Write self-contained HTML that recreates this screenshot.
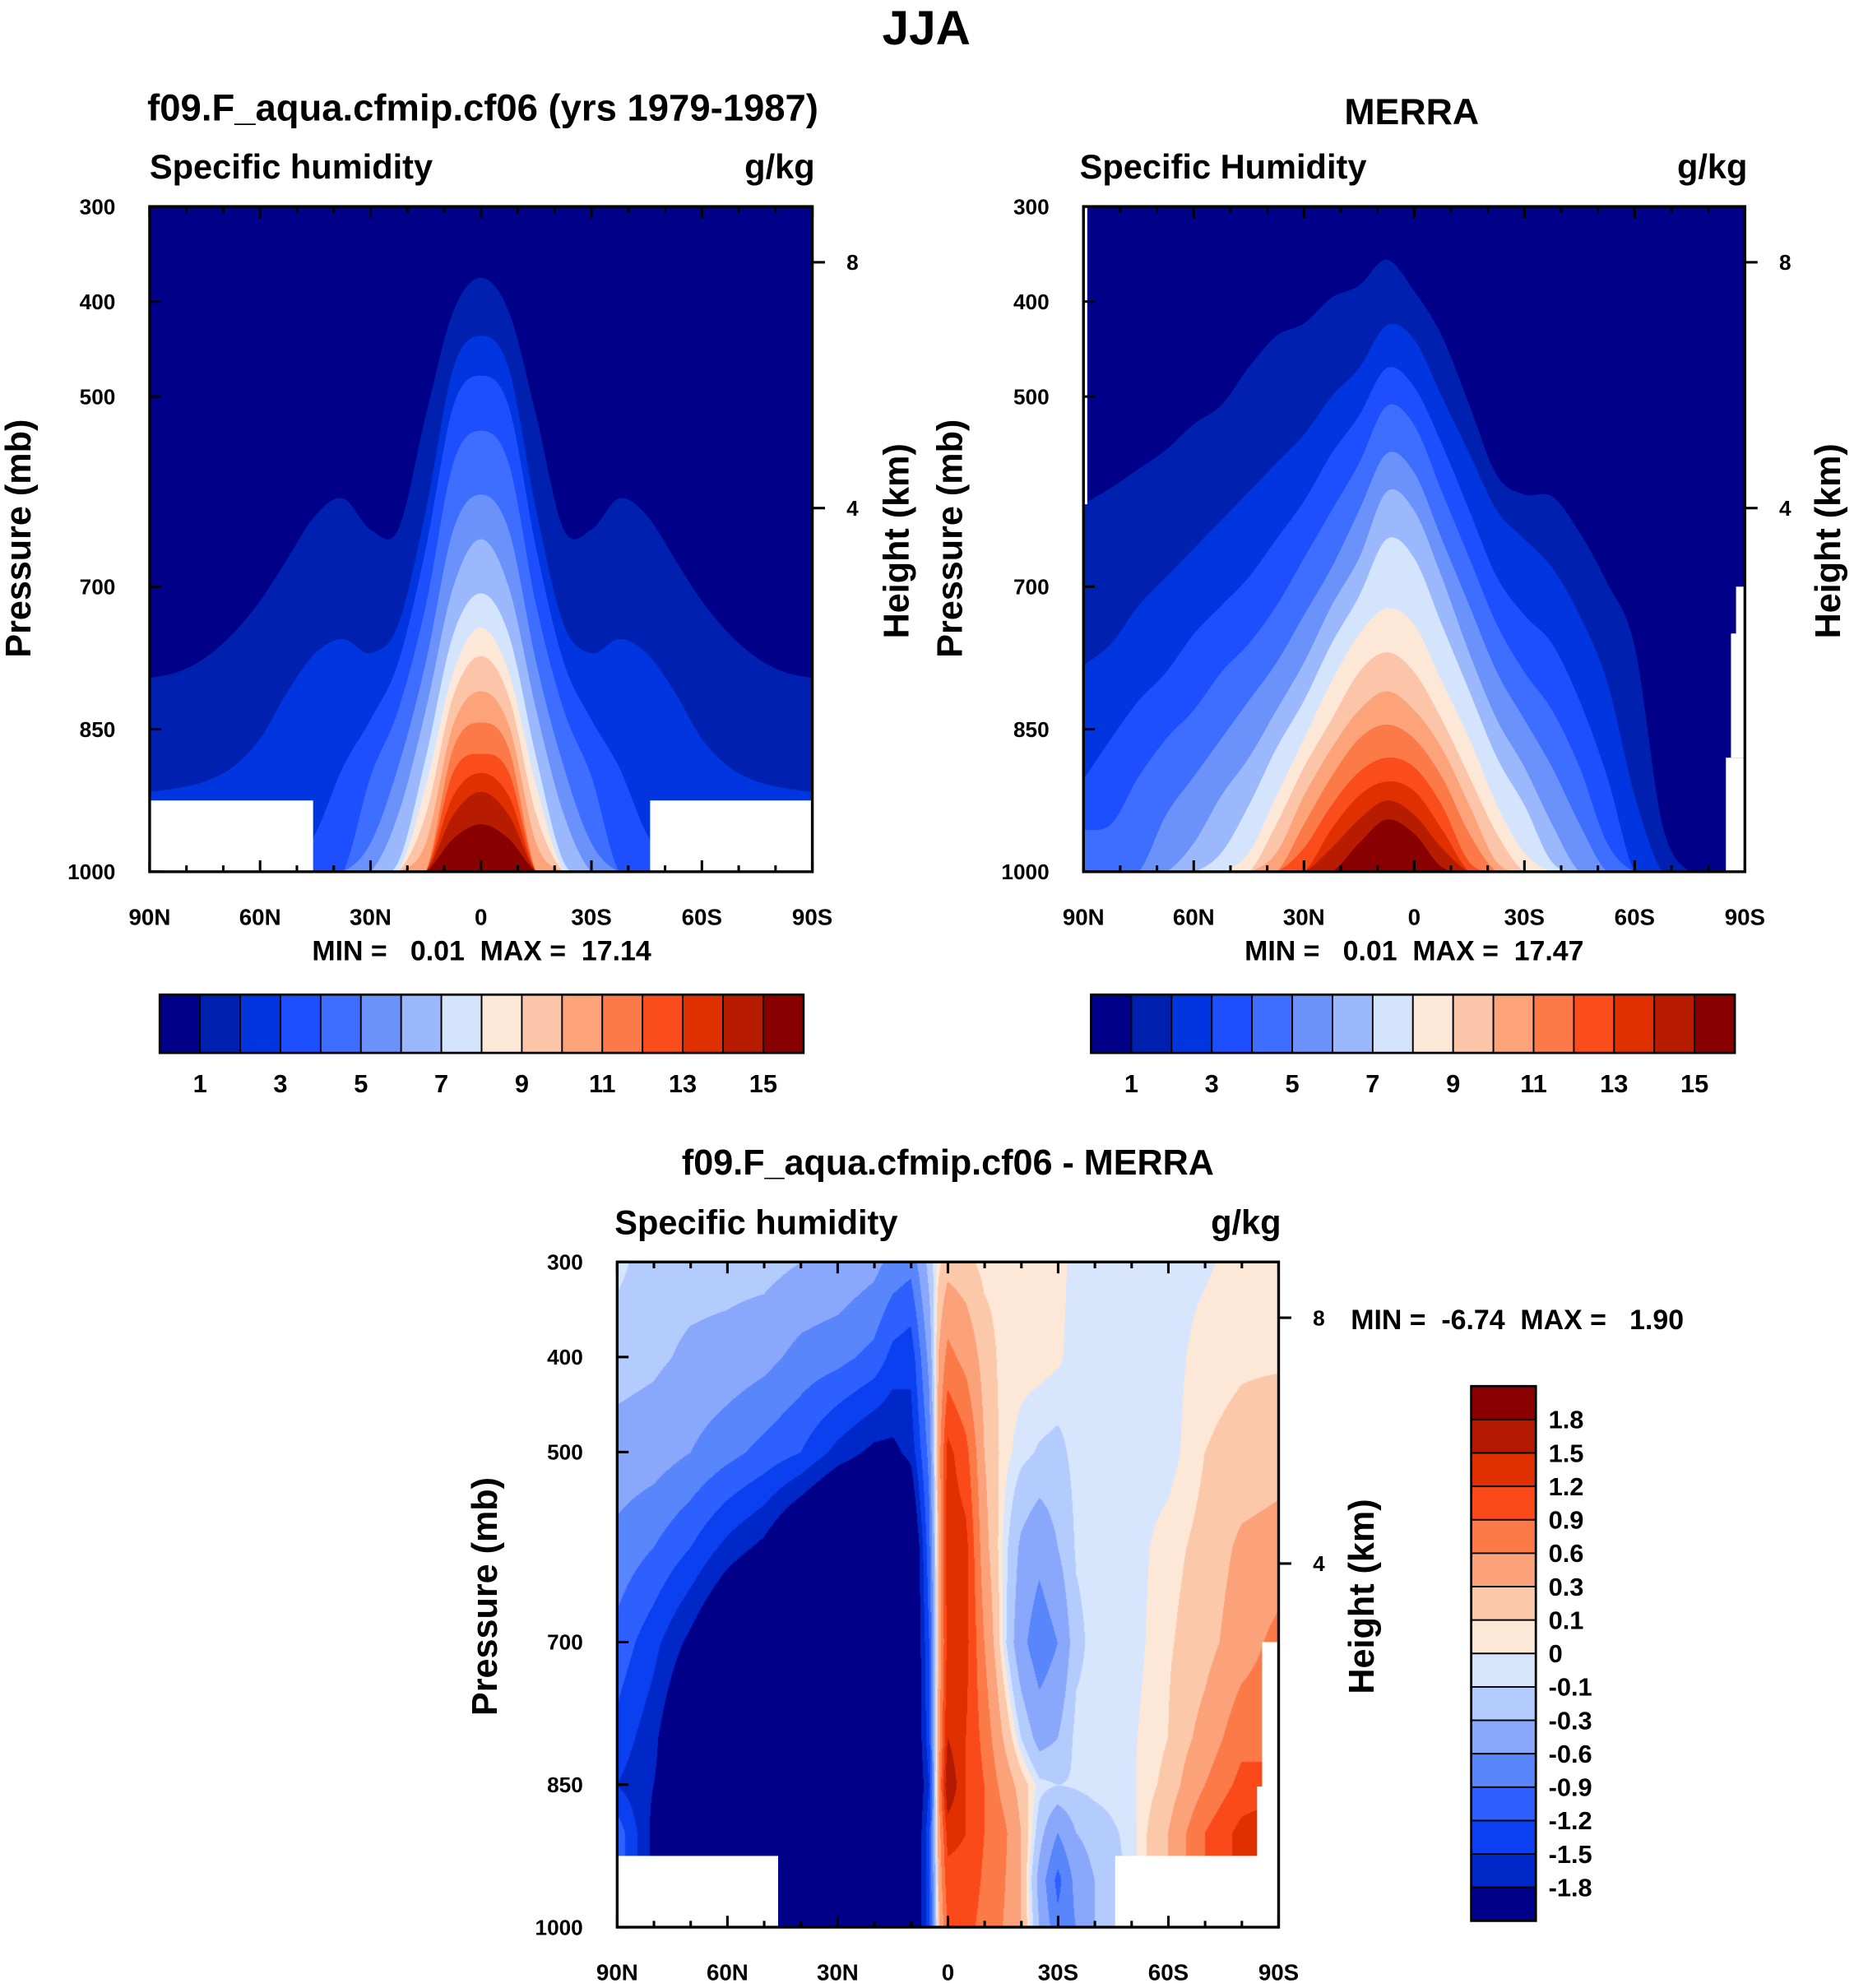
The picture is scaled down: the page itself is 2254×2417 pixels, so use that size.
<!DOCTYPE html>
<html><head><meta charset="utf-8">
<style>
html,body{margin:0;padding:0;background:#fff;}
#wrap{position:relative;width:2254px;height:2417px;overflow:hidden;}
svg{position:absolute;left:0;top:0;}
#diffCanvas{position:absolute;}
text{font-family:"Liberation Sans",Arial,sans-serif;font-weight:bold;fill:#000;white-space:pre;}
</style></head>
<body>
<div id="wrap">
<canvas id="diffCanvas"></canvas>
<svg id="fig" width="2254" height="2417" viewBox="0 0 1463 1569"></svg>
</div>
<script>
// ---------- DATA ----------
const lats = [90,82.5,75,67.5,60,52.5,45,37.5,30,22.5,15,7.5,0,-7.5,-15,-22.5,-30,-37.5,-45,-52.5,-60,-67.5,-75,-82.5,-90];
const levelColors = ["#000088","#0020b0","#0035e0","#1e4fff","#3d6eff","#6b92fb","#9ab8fb","#d4e4fd","#fde8d8","#fcc4a8","#fca37a","#fb7a48","#fb4c1c","#e03000","#b81c00","#880000"];
const levelTicks = [1,3,5,7,9,11,13,15];
// panel 1 (model) half-profiles 90N..0 : pressure of top boundary of q>k
const m1 = [796,790,775,750,715,670,625,607,640,640,520,410,375];
const m2 = [916,912,905,890,860,810,770,755,770,740,620,470,436];
const m3 = [1050,1050,1050,1050,1050,1010,960,890,840,780,660,510,478];
const m4 = [1100,1100,1100,1100,1100,1100,1060,1000,900,830,720,570,536];
const m5 = [1100,1100,1100,1100,1100,1100,1100,1060,970,890,780,640,603];
const m6 = [1100,1100,1100,1100,1100,1100,1100,1100,1020,940,830,700,650];
const m7 = [1100,1100,1100,1100,1100,1100,1100,1100,1080,990,880,750,707];
const m8 = [1100,1100,1100,1100,1100,1100,1100,1100,1100,1030,910,790,743];
const m9 = [1100,1100,1100,1100,1100,1100,1100,1100,1100,1080,940,815,773];
const m10 = [1100,1100,1100,1100,1100,1100,1100,1100,1100,1100,970,845,810];
const m11 = [1100,1100,1100,1100,1100,1100,1100,1100,1100,1100,1000,870,843];
const m12 = [1100,1100,1100,1100,1100,1100,1100,1100,1100,1100,1030,895,876];
const m13 = [1100,1100,1100,1100,1100,1100,1100,1100,1100,1100,1060,920,896];
const m14 = [1100,1100,1100,1100,1100,1100,1100,1100,1100,1100,1080,940,916];
const m15 = [1100,1100,1100,1100,1100,1100,1100,1100,1100,1100,1100,965,950];
// panel 2 (MERRA) full profiles 90N..90S
const r1 = [613,596,576,556,529,509,469,436,423,396,383,356,389,436,509,583,603,605,643,696,763,950,1100,1100,1100];
const r2 = [783,760,720,690,660,630,600,570,540,500,470,425,440,500,560,620,650,680,730,800,920,1050,1100,1100,1100];
const r3 = [903,860,820,790,750,720,690,650,610,560,520,470,490,550,620,690,730,760,820,900,1000,1100,1100,1100,1100];
const r4 = [956,950,900,860,830,790,760,720,670,620,570,510,530,600,670,740,790,830,890,970,1050,1100,1100,1100,1100];
const r5 = [1050,1030,1000,940,900,860,820,780,730,680,620,560,580,650,720,790,840,890,950,1020,1100,1100,1100,1100,1100];
const r6 = [1100,1100,1080,1030,970,920,880,830,780,720,670,600,620,690,770,840,890,950,1010,1080,1100,1100,1100,1100,1100];
const r7 = [1100,1100,1100,1080,1030,980,930,870,820,760,710,650,670,740,810,880,930,990,1040,1100,1100,1100,1100,1100,1100];
const r8 = [1100,1100,1100,1100,1080,1030,980,920,860,800,750,723,740,800,860,930,980,1030,1100,1100,1100,1100,1100,1100,1100];
const r9 = [1100,1100,1100,1100,1100,1100,1010,950,890,840,790,769,790,840,900,960,1010,1080,1100,1100,1100,1100,1100,1100,1100];
const r10 = [1100,1100,1100,1100,1100,1100,1060,980,920,870,830,810,830,870,930,990,1060,1100,1100,1100,1100,1100,1100,1100,1100];
const r11 = [1100,1100,1100,1100,1100,1100,1100,1010,950,900,860,845,860,900,960,1020,1100,1100,1100,1100,1100,1100,1100,1100,1100];
const r12 = [1100,1100,1100,1100,1100,1100,1100,1040,975,930,895,880,890,930,990,1060,1100,1100,1100,1100,1100,1100,1100,1100,1100];
const r13 = [1100,1100,1100,1100,1100,1100,1100,1100,1000,955,920,905,915,955,1020,1100,1100,1100,1100,1100,1100,1100,1100,1100,1100];
const r14 = [1100,1100,1100,1100,1100,1100,1100,1100,1030,975,945,925,940,975,1040,1100,1100,1100,1100,1100,1100,1100,1100,1100,1100];
const r15 = [1100,1100,1100,1100,1100,1100,1100,1100,1080,1010,970,945,960,995,1050,1100,1100,1100,1100,1100,1100,1100,1100,1100,1100];
// panel 3 difference grid
const dLats = [90,80,70,60,50,40,30,20,15,10,5,2.5,0,-5,-10,-15,-20,-25,-30,-35,-40,-50,-60,-70,-80,-90];
const dPres = [300,400,500,600,700,800,850,900,950,1000];
const d300 = [-0.05,-0.2,-0.2,-0.2,-0.2,-0.3,-0.35,-0.5,-0.7,-0.8,-0.2,0.05,0.2,0.15,0.05,0.05,0.05,0.05,0.05,-0.05,-0.05,-0.05,-0.05,-0.02,0.05,0.05];
const d400 = [-0.2,-0.25,-0.35,-0.4,-0.5,-0.7,-0.8,-1.0,-1.3,-1.4,-0.5,0.3,0.7,0.5,0.2,0.05,0.05,0.05,0.02,-0.05,-0.05,-0.05,-0.05,0.05,0.08,0.08];
const d500 = [-0.4,-0.45,-0.6,-0.8,-1.0,-1.2,-1.6,-1.9,-1.9,-1.7,-0.8,0.4,1.3,1.0,0.3,0.05,-0.05,-0.12,-0.15,-0.05,-0.05,-0.05,-0.05,0.1,0.15,0.2];
const d600 = [-0.7,-0.9,-1.2,-1.6,-1.9,-2.5,-3,-3,-3,-2.5,-1.0,0.3,1.4,1.3,0.4,0.0,-0.35,-0.5,-0.3,-0.08,-0.05,-0.05,0.05,0.15,0.35,0.4];
const d700 = [-1.0,-1.4,-1.9,-2.5,-3,-3,-3,-3,-3,-2.5,-1.2,0.3,1.3,1.3,0.6,0.0,-0.5,-0.8,-0.6,-0.15,-0.05,-0.05,0.08,0.2,0.45,0.7];
const d800 = [-1.3,-1.7,-2.5,-3,-3,-3,-3,-3,-3,-2.5,-1.3,0.4,1.5,1.2,0.8,0.3,-0.1,-0.4,-0.3,-0.05,-0.05,-0.02,0.1,0.4,0.8,0.8];
const d850 = [-1.5,-1.8,-2.3,-3,-3,-3,-3,-3,-3,-2.5,-1.5,0.5,1.8,1.2,0.9,0.5,0.2,-0.05,-0.1,-0.08,-0.05,-0.02,0.15,0.6,1.0,1.0];
const d900 = [-1.0,-1.9,-2.5,-3,-3,-3,-3,-3,-3,-2.5,-1.3,0.4,1.3,1.2,0.9,0.7,0.3,-0.2,-0.6,-0.3,-0.2,-0.05,0.3,0.9,1.3,1.5];
const d950 = [-1.0,-1.9,-2.5,-3,-3,-3,-3,-3,-3,-2.5,-1.3,0.3,1.1,1.1,0.85,0.65,0.3,-0.4,-1.0,-0.5,-0.3,-0.05,0.3,0.9,1.3,1.5];
const d1000 = [-1.0,-1.9,-2.5,-3,-3,-3,-3,-3,-3,-2.5,-1.3,0.2,0.9,1.0,0.8,0.6,0.3,-0.3,-0.8,-0.6,-0.3,-0.1,0.3,0.9,1.3,1.5];
const diffBounds = [-1.8,-1.5,-1.2,-0.9,-0.6,-0.3,-0.1,0,0.1,0.3,0.6,0.9,1.2,1.5,1.8];
const diffLabels = ["1.8","1.5","1.2","0.9","0.6","0.3","0.1","0","-0.1","-0.3","-0.6","-0.9","-1.2","-1.5","-1.8"];
const diffColors = ["#000088","#0028c8","#0a40f0","#2d60ff","#5a86fb","#8aa8fb","#b4cbfd","#d8e6fd","#fde8d8","#fcc8aa","#fba27a","#fb7a48","#fb4a1a","#e03000","#b31900","#8a0000"];
const xTickLats = [90,60,30,0,-30,-60,-90];
const xTickLabels = ["90N","60N","30N","0","30S","60S","90S"];
const pTicks = [300,400,500,700,850,1000];
const hTicks = [8,4];
// ---------- HELPERS ----------
const NS="http://www.w3.org/2000/svg";
const svg=document.getElementById('fig');
function el(tag,attrs,parent){const e=document.createElementNS(NS,tag);for(const k in attrs)e.setAttribute(k,attrs[k]);(parent||svg).appendChild(e);return e;}
function txt(s,x,y,size,anchor,parent,extra){const t=el('text',Object.assign({x:x,y:y,'font-size':size,'text-anchor':anchor||'start'},extra||{}),parent);t.textContent=s;return t;}
function mirror(h){const r=h.slice();for(let i=h.length-2;i>=0;i--)r.push(h[i]);return r;}
function smoothPath(pts){let d='M'+pts[0][0]+','+pts[0][1];for(let i=0;i<pts.length-1;i++){const p0=pts[Math.max(0,i-1)],p1=pts[i],p2=pts[i+1],p3=pts[Math.min(pts.length-1,i+2)];const c1x=p1[0]+(p2[0]-p0[0])/6,c1y=p1[1]+(p2[1]-p0[1])/6,c2x=p2[0]-(p3[0]-p1[0])/6,c2y=p2[1]-(p3[1]-p1[1])/6;d+=' C'+c1x.toFixed(1)+','+c1y.toFixed(1)+' '+c2x.toFixed(1)+','+c2y.toFixed(1)+' '+p2[0].toFixed(1)+','+p2[1].toFixed(1);}return d;}
function makeAxes(x0,x1,y0,y1){return {X:lat=>x0+(90-lat)/180*(x1-x0),Y:p=>y0+(p-300)/700*(y1-y0),x0,x1,y0,y1};}
function drawFrame(ax,name,withHeight,hTickY){
  const g=el('g',{});
  
  el('rect',{x:ax.x0,y:ax.y0,width:ax.x1-ax.x0,height:ax.y1-ax.y0,fill:'none',stroke:'#000','stroke-width':2.2},g);
  for(let lat=90;lat>=-90;lat-=10){const x=ax.X(lat);const major=(lat%30===0);const L=major?9:5;
    el('line',{x1:x,y1:ax.y1,x2:x,y2:ax.y1-L,stroke:'#000','stroke-width':2},g);
    el('line',{x1:x,y1:ax.y0,x2:x,y2:ax.y0+L,stroke:'#000','stroke-width':2},g);}
  xTickLats.forEach((lat,i)=>{const t=txt(xTickLabels[i],ax.X(lat),ax.y1+42,18,'middle',g);});
  pTicks.forEach(p=>{const y=ax.Y(p);el('line',{x1:ax.x0,y1:y,x2:ax.x0+9,y2:y,stroke:'#000','stroke-width':2},g);
    const t=txt(String(p),ax.x0-27,y+6,17,'end',g);});
  hTicks.forEach((km,i)=>{const y=hTickY[i];el('line',{x1:ax.x1,y1:y,x2:ax.x1+10,y2:y,stroke:'#000','stroke-width':2},g);
    const t=txt(String(km),ax.x1+27,y+6,17,'start',g);});
  return g;
}
// ---------- TITLE ----------
let t=txt('JJA',731,35,38,'middle');
// ---------- PANELS 1 & 2 ----------
function drawContourPanel(ax,levels,name,clipId){
  const g=el('g',{});
  
  const cp=el('clipPath',{id:clipId},g);el('rect',{x:ax.x0,y:ax.y0,width:ax.x1-ax.x0,height:ax.y1-ax.y0},cp);
  const inner=el('g',{'clip-path':'url(#'+clipId+')'},g);
  const bg=el('rect',{x:ax.x0,y:ax.y0,width:ax.x1-ax.x0,height:ax.y1-ax.y0,fill:levelColors[0]},inner);
  
  levels.forEach((prof,k)=>{
    const pts=prof.map((p,i)=>[ax.X(lats[i]),ax.Y(Math.min(p,1000))]);
    const d=smoothPath(pts)+' L'+ax.X(-90)+','+(ax.y1+5)+' L'+ax.X(90)+','+(ax.y1+5)+' Z';
    const path=el('path',{d:d,fill:levelColors[k+1]},inner);
    
    
  });
  return inner;
}
const ax1=makeAxes(118,641,163,688);
const in1=drawContourPanel(ax1,[mirror(m1),mirror(m2),mirror(m3),mirror(m4),mirror(m5),mirror(m6),mirror(m7),mirror(m8),mirror(m9),mirror(m10),mirror(m11),mirror(m12),mirror(m13),mirror(m14),mirror(m15)],'model-panel','clip1');
let w=el('rect',{x:118,y:ax1.Y(925),width:129,height:ax1.y1-ax1.Y(925),fill:'#fff'},in1);
w=el('rect',{x:513,y:ax1.Y(925),width:128,height:ax1.y1-ax1.Y(925),fill:'#fff'},in1);
drawFrame(ax1,'model-panel',true,[207,401]);
const ax2=makeAxes(855,1377,163,688);
const in2=drawContourPanel(ax2,[r1,r2,r3,r4,r5,r6,r7,r8,r9,r10,r11,r12,r13,r14,r15],'merra-panel','clip2');
w=el('rect',{x:1362,y:598,width:15,height:90,fill:'#fff'},in2);
w=el('rect',{x:1366,y:500,width:11,height:98,fill:'#fff'},in2);
w=el('rect',{x:1370,y:463,width:7,height:40,fill:'#fff'},in2);
w=el('rect',{x:855,y:163,width:3,height:235,fill:'#fff'},in2);
drawFrame(ax2,'merra-panel',true,[207,401]);
// titles and labels
function label(s,x,y,size,anchor,name,rot){const tt=txt(s,x,y,size,anchor,svg,rot?{transform:'rotate(-90 '+x+' '+y+')'}:null);return tt;}
label('f09.F_aqua.cfmip.cf06 (yrs 1979-1987)',381,95,29.5,'middle','model-panel-title');
label('MERRA',1114,98,29,'middle','merra-panel-title');
label('Specific humidity',118,141,27,'start','model-variable-label');
label('g/kg',643,141,27,'end','model-units-label');
label('Specific Humidity',852,141,27,'start','merra-variable-label');
label('g/kg',1379,141,27,'end','merra-units-label');
label('Pressure (mb)',24,425,28,'middle','model-y-axis-title',true);
label('Height (km)',717,427,28,'middle','model-height-axis-title',true);
label('Pressure (mb)',759,425,28,'middle','merra-y-axis-title',true);
label('Height (km)',1452,427,28,'middle','merra-height-axis-title',true);
label('MIN =   0.01  MAX =  17.14',380,758,22,'middle','model-min-max',false);
label('MIN =   0.01  MAX =  17.47',1116,758,22,'middle','merra-min-max',false);
// colorbars
function hColorbar(x0,x1,y0,y1,name){
  const g=el('g',{});
  const bw=(x1-x0)/levelColors.length;
  levelColors.forEach((c,i)=>{const r=el('rect',{x:x0+i*bw,y:y0,width:bw,height:y1-y0,fill:c,stroke:'#000','stroke-width':1.2},g);});
  el('rect',{x:x0,y:y0,width:x1-x0,height:y1-y0,fill:'none',stroke:'#000','stroke-width':1.8},g);
  levelTicks.forEach(v=>{const tt=txt(String(v),x0+v*bw,y1+31,20,'middle',g);});
}
hColorbar(126,634,785,831,'model-colorbar');
hColorbar(861,1369,785,831,'merra-colorbar');
// ---------- PANEL 3 ----------
const ax3=makeAxes(487,1009,996,1521);
const S=2254/1463;
const cv=document.getElementById('diffCanvas');
const cw=Math.round((ax3.x1-ax3.x0)*S), ch=Math.round((ax3.y1-ax3.y0)*S);
cv.width=cw;cv.height=ch;cv.style.left=(ax3.x0*S)+'px';cv.style.top=(ax3.y0*S)+'px';cv.style.width=cw+'px';cv.style.height=ch+'px';
(function(){
  const grid=[d300,d400,d500,d600,d700,d800,d850,d900,d950,d1000];
  const ctx=cv.getContext('2d');const img=ctx.createImageData(cw,ch);
  const rgb=diffColors.map(c=>[parseInt(c.substr(1,2),16),parseInt(c.substr(3,2),16),parseInt(c.substr(5,2),16)]);
  function locate(arr,v,desc){for(let i=0;i<arr.length-1;i++){const a=arr[i],b=arr[i+1];if(desc?(v<=a&&v>=b):(v>=a&&v<=b)){return [i,(v-a)/(b-a)];}}return [arr.length-2,1];}
  for(let py=0;py<ch;py++){const p=300+(py+0.5)/ch*700;const [j,fy]=locate(dPres,p,false);
    for(let px=0;px<cw;px++){const lat=90-(px+0.5)/cw*180;const [i,fx]=locate(dLats,lat,true);
      const v=(grid[j][i]*(1-fx)+grid[j][i+1]*fx)*(1-fy)+(grid[j+1][i]*(1-fx)+grid[j+1][i+1]*fx)*fy;
      let k=0;while(k<diffBounds.length&&v>diffBounds[k])k++;
      const c=rgb[k];const o=(py*cw+px)*4;img.data[o]=c[0];img.data[o+1]=c[1];img.data[o+2]=c[2];img.data[o+3]=255;}}
  ctx.putImageData(img,0,0);
})();
// masks over canvas
const m3g=el('g',{});
el('rect',{x:488,y:ax3.Y(925),width:126,height:ax3.y1-ax3.Y(925),fill:'#fff'},m3g);
el('rect',{x:880,y:ax3.Y(925),width:128,height:ax3.y1-ax3.Y(925),fill:'#fff'},m3g);
el('rect',{x:996,y:1296,width:12,height:170,fill:'#fff'},m3g);
el('rect',{x:992,y:1410,width:16,height:56,fill:'#fff'},m3g);
drawFrame(ax3,'difference-panel',true,[1040,1234]);
label('f09.F_aqua.cfmip.cf06 - MERRA',748,927,28,'middle','difference-panel-title');
label('Specific humidity',485,974,27,'start','difference-variable-label');
label('g/kg',1011,974,27,'end','difference-units-label');
label('Pressure (mb)',392,1260,28,'middle','difference-y-axis-title',true);
label('Height (km)',1084,1260,28,'middle','difference-height-axis-title',true);
label('MIN =  -6.74  MAX =   1.90',1066,1049,22,'start','difference-min-max',false);
(function(){
  const g=el('g',{});
  const x0=1161,x1=1212,y0=1094,y1=1516,n=diffColors.length,bh=(y1-y0)/n;
  for(let i=0;i<n;i++){const r=el('rect',{x:x0,y:y0+i*bh,width:x1-x0,height:bh,fill:diffColors[n-1-i],stroke:'#000','stroke-width':1.2},g);}
  el('rect',{x:x0,y:y0,width:x1-x0,height:y1-y0,fill:'none',stroke:'#000','stroke-width':1.8},g);
  diffLabels.forEach((s,i)=>{const tt=txt(s,1222,y0+(i+1)*bh+7,20,'start',g);});
})();
</script>
</body></html>
